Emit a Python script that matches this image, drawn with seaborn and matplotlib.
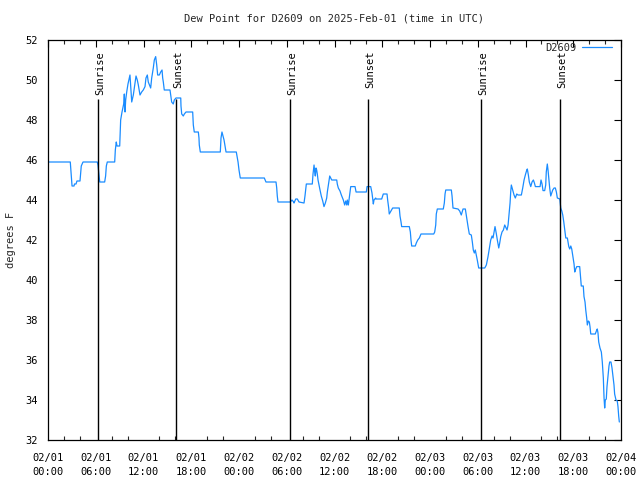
import matplotlib
matplotlib.use("Agg")
import matplotlib.pyplot as plt
import seaborn as sns
import pandas as pd
import numpy as np

# ---- data (hours since 2025-02-01 00:00 UTC, dew point in F) ----
hours = [0.0, 2.8, 3.02, 3.27, 3.33, 3.52, 3.64, 4.02, 4.18, 4.40, 6.19, 6.28, 6.37, 6.50, 7.12, 7.24,
         7.33, 7.45, 8.38, 8.42, 8.46, 8.58, 8.67, 9.01, 9.08, 9.13, 9.30, 9.51, 9.59, 9.68, 9.76, 9.89,
         10.05, 10.27, 10.30, 10.52, 10.72, 11.06, 11.22, 11.35, 11.56, 11.77, 11.97, 12.19, 12.31, 12.48,
         12.60, 12.90, 13.03, 13.23, 13.36, 13.53, 13.66, 13.78, 13.99, 14.16, 14.33, 14.41, 14.49, 14.61,
         15.33, 15.42, 15.54, 15.74, 15.87, 16.08, 16.68, 16.71, 16.80, 17.00, 17.13, 17.34, 18.18, 18.26,
         18.38, 18.89, 18.97, 19.01, 19.14, 21.65, 21.74, 21.86, 21.99, 22.12, 22.24, 22.37, 23.66, 23.75,
         23.88, 24.00, 24.16, 27.18, 27.31, 27.39, 28.65, 28.74, 28.81, 28.90, 30.45, 30.66, 30.87, 30.91,
         31.13, 31.33, 31.54, 32.17, 32.29, 32.46, 33.21, 33.30, 33.43, 33.51, 33.59, 33.68, 33.76, 33.84,
         33.93, 34.05, 34.18, 34.34, 34.52, 34.68, 34.85, 35.02, 35.10, 35.28, 35.40, 35.53, 35.65, 36.28,
         36.35, 36.48, 36.69, 36.86, 37.11, 37.28, 37.41, 37.54, 37.61, 37.74, 38.04, 38.58, 38.71, 40.00,
         40.09, 40.55, 40.71, 40.88, 40.96, 41.18, 41.21, 41.93, 42.13, 42.60, 42.68, 42.81, 42.88, 43.10,
         43.31, 44.14, 44.23, 44.36, 44.44, 45.40, 45.53, 45.61, 45.70, 46.15, 46.28, 46.46, 46.66, 46.87,
         48.47, 48.59, 48.72, 48.79, 48.92, 49.67, 49.80, 49.89, 49.98, 50.68, 50.77, 50.89, 51.52, 51.73,
         51.93, 52.15, 52.44, 52.61, 52.78, 52.94, 53.19, 53.32, 53.44, 53.57, 53.69, 53.82, 53.94, 54.12,
         54.88, 55.08, 55.29, 55.46, 55.63, 55.80, 55.92, 56.05, 56.17, 56.34, 56.46, 56.64, 56.76, 56.89,
         57.05, 57.22, 57.39, 57.56, 57.68, 57.81, 57.93, 58.06, 58.14, 58.22, 58.39, 58.56, 58.72, 58.90,
         59.06, 59.48, 59.65, 59.82, 59.98, 60.16, 60.23, 60.36, 60.48, 60.66, 60.82, 60.99, 61.12, 61.24,
         61.83, 61.91, 61.95, 62.08, 62.20, 62.41, 62.54, 62.61, 62.74, 62.83, 62.92, 63.04, 63.17, 63.29,
         63.42, 63.59, 63.75, 63.88, 64.00, 64.31, 64.43, 64.56, 64.68, 64.81, 64.93, 65.06, 65.26, 65.44,
         65.56, 65.69, 65.81, 65.94, 66.10, 66.19, 66.31, 66.44, 66.81, 66.94, 67.01, 67.26, 67.35, 67.48,
         67.57, 67.69, 67.77, 67.89, 68.02, 68.11, 68.20, 68.77, 68.95, 69.02, 69.11, 69.20, 69.36, 69.53,
         69.65, 69.78, 69.87, 69.95, 70.03, 70.15, 70.24, 70.37, 70.49, 70.58, 70.74, 70.87, 70.99, 71.12,
         71.20, 71.37, 71.53, 71.62, 71.71, 71.79]
dewpoint = [45.9, 45.9, 44.7, 44.7, 44.8, 44.8, 44.95, 44.95, 45.7, 45.9, 45.9, 45.75, 45.4, 44.9, 44.9, 45.2,
            45.7, 45.9, 45.9, 46.2, 46.5, 46.9, 46.7, 46.7, 47.4, 48.0, 48.4, 48.8, 49.3, 48.4, 49.0, 49.4,
            49.8, 50.2, 50.25, 48.9, 49.25, 50.2, 50.0, 49.75, 49.25, 49.4, 49.5, 49.67, 50.1, 50.25,
            49.9, 49.6, 50.1, 50.6, 51.0, 51.17, 50.75, 50.25, 50.25, 50.4, 50.5, 50.1, 49.9, 49.5,
            49.5, 49.25, 48.9, 48.8, 49.0, 49.1, 49.1, 48.7, 48.3, 48.2, 48.3, 48.4, 48.4, 47.75,
            47.4, 47.4, 47.1, 46.75, 46.4, 46.4, 47.1, 47.4, 47.2, 47.0, 46.7, 46.4, 46.4, 46.2,
            45.9, 45.5, 45.1, 45.1, 44.97, 44.9, 44.9, 44.6, 44.2, 43.9, 43.9, 44.0, 43.9, 43.85,
            44.05, 44.05, 43.9, 43.85, 44.2, 44.8, 44.8, 45.3, 45.75, 45.4, 45.2, 45.6, 45.5, 45.3,
            45.0, 44.75, 44.5, 44.2, 43.95, 43.67, 43.85, 44.1, 44.4, 44.9, 45.2, 45.1, 45.0, 45.0,
            44.8, 44.6, 44.45, 44.25, 44.0, 43.75, 43.95, 43.75, 44.0, 43.75, 44.67, 44.67, 44.4, 44.4,
            44.67, 44.67, 44.35, 43.8, 44.0, 44.1, 44.05, 44.05, 44.3, 44.3, 44.0, 43.6, 43.3, 43.45,
            43.6, 43.6, 43.2, 42.9, 42.67, 42.67, 42.4, 42.0, 41.7, 41.7, 41.85, 42.0, 42.1, 42.3,
            42.3, 42.4, 42.75, 43.3, 43.55, 43.55, 43.85, 44.3, 44.5, 44.5, 44.2, 43.6, 43.55, 43.45,
            43.25, 43.55, 43.55, 43.1, 42.67, 42.3, 42.25, 41.9, 41.5, 41.35, 41.5, 41.25, 41.0, 40.6,
            40.6, 40.75, 41.17, 41.6, 42.0, 42.2, 42.1, 42.4, 42.67, 42.3, 42.0, 41.6, 41.85, 42.17,
            42.4, 42.5, 42.75, 42.6, 42.5, 42.75, 43.25, 43.85, 44.4, 44.75, 44.5, 44.25, 44.1, 44.3,
            44.25, 44.25, 44.6, 45.0, 45.25, 45.5, 45.55, 45.25, 44.9, 44.67, 44.9, 45.0, 44.85, 44.67,
            44.67, 44.9, 45.0, 44.8, 44.47, 44.47, 44.75, 45.4, 45.8, 45.5, 45.1, 44.6, 44.2, 44.35,
            44.5, 44.6, 44.6, 44.4, 44.1, 44.05, 43.6, 43.45, 43.25, 42.9, 42.5, 42.1, 42.1, 41.67,
            41.55, 41.7, 41.55, 41.2, 40.8, 40.4, 40.55, 40.67, 40.67, 40.0, 39.7, 39.7, 39.17, 38.9,
            38.5, 38.1, 37.75, 37.95, 37.9, 37.65, 37.3, 37.3, 37.5, 37.55, 37.35, 36.9, 36.6, 36.4,
            35.9, 35.1, 34.1, 33.6, 34.0, 34.05, 34.67, 35.2, 35.7, 35.9, 35.9, 35.6, 35.2, 34.75,
            34.3, 34.0, 33.95, 33.67, 33.2, 32.9]

sun_hours = [6.32, 16.12, 30.45, 40.21, 54.45, 64.37]
sun_labels = ["Sunrise", "Sunset", "Sunrise", "Sunset", "Sunrise", "Sunset"]

xtick_hours = list(range(0, 73, 6))
xtick_labels = ["02/01\n00:00", "02/01\n06:00", "02/01\n12:00", "02/01\n18:00",
                "02/02\n00:00", "02/02\n06:00", "02/02\n12:00", "02/02\n18:00",
                "02/03\n00:00", "02/03\n06:00", "02/03\n12:00", "02/03\n18:00",
                "02/04\n00:00"]
yticks = list(range(32, 53, 2))

title = "Dew Point for D2609 on 2025-Feb-01 (time in UTC)"
series_name = "D2609"
ylabel = "degrees F"

# ---- plotting ----
sns.set_theme(style="white")
plt.rcParams["font.family"] = ["DejaVu Sans Mono", "DejaVu Sans"]
plt.rcParams["font.size"] = 7.5

fig = plt.figure(figsize=(6.4, 4.8), dpi=100)
ax = fig.add_axes([48 / 640, 40 / 480, 573 / 640, 400 / 480])

df = pd.DataFrame({"hour": hours, "dew": dewpoint})
sns.lineplot(data=df, x="hour", y="dew", ax=ax, color="#1a8cff", linewidth=0.9,
             label=series_name, sort=False)

ax.vlines(sun_hours, 32, 49.05, color="black", linewidth=1.0)
for h, lab in zip(sun_hours, sun_labels):
    ax.text(h + 0.25, 51.45, lab, rotation=90, ha="center", va="top", fontsize=7.5, color="black")

ax.set_xlim(0, 72)
ax.set_ylim(32, 52)
ax.set_xticks(xtick_hours)
ax.set_xticklabels(xtick_labels, linespacing=1.6)
ax.set_xticks(np.arange(0, 73, 2), minor=True)
ax.set_yticks(yticks)
ax.set_yticklabels([str(v) for v in yticks])
ax.tick_params(axis="both", which="major", direction="in", length=5, width=0.8,
               top=True, right=True, colors="black", labelsize=7.5)
ax.tick_params(axis="x", which="major", pad=9)
ax.tick_params(axis="y", which="major", pad=7)
ax.tick_params(axis="x", which="minor", direction="in", length=3, width=0.8, top=True, bottom=True)
for s in ax.spines.values():
    s.set_color("black")
    s.set_linewidth(0.9)

ax.set_xlabel("")
ax.set_ylabel(ylabel, fontsize=7.5, labelpad=7)
ax.set_title(title, fontsize=7.5, pad=13)
ax.grid(False)

leg = ax.legend(loc="upper right", bbox_to_anchor=(0.988, 1.0), frameon=False, markerfirst=False,
                handlelength=2.8, fontsize=7.5, borderaxespad=0.05, borderpad=0.2,
                handletextpad=0.6)

fig.savefig("out.png", dpi=100)
